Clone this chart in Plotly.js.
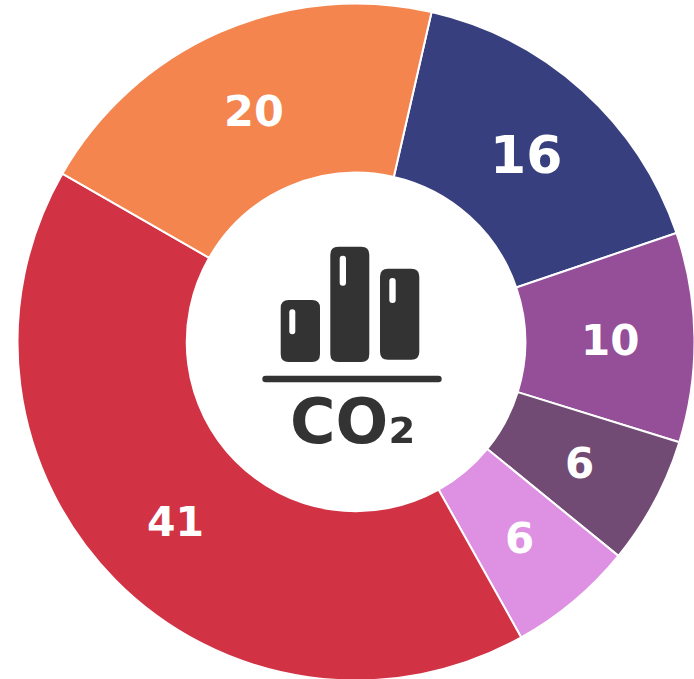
<!DOCTYPE html>
<html><head><meta charset="utf-8">
<script src="https://cdn.plot.ly/plotly-3.0.1.min.js"></script>
<style>html,body{margin:0;padding:0;background:#fff;width:694px;height:679px;overflow:hidden}#c{width:695px;height:682px}svg text{text-rendering:auto !important}</style>
</head><body><div id="c"></div>
<script>
const labels = ["A","B","C","D","E","F"];
const values = [16.2,10,6.1,6,41.4,20.3];
const labelText = ["16","10","6","6","41","20"];
const colors = ["#373F7E","#954F99","#714B73","#DE90E2","#D13345","#F4854F"];
const fontSizes = [52,42,42,42,41,43];
const W=695,H=682;
const px=x=>x/W, py=y=>1-y/H;
function rr(x0,y0,x1,y1,r){
  return `M${px(x0+r)},${py(y0)} L${px(x1-r)},${py(y0)} Q${px(x1)},${py(y0)} ${px(x1)},${py(y0+r)} L${px(x1)},${py(y1-r)} Q${px(x1)},${py(y1)} ${px(x1-r)},${py(y1)} L${px(x0+r)},${py(y1)} Q${px(x0)},${py(y1)} ${px(x0)},${py(y1-r)} L${px(x0)},${py(y0+r)} Q${px(x0)},${py(y0)} ${px(x0+r)},${py(y0)} Z`;
}
const shape=(path,fill)=>({type:'path',xref:'paper',yref:'paper',path,fillcolor:fill,line:{width:0},layer:'above'});
const dark="#333333";
const shapes=[
 shape(rr(280.7,300,320,362,8),dark),
 shape(rr(330.3,246.7,369.3,362,8),dark),
 shape(rr(380,268.7,419.3,359.7,8),dark),
 shape(rr(289.3,309.3,295.3,334.3,3),"#fff"),
 shape(rr(339.7,255.7,346,285.7,3),"#fff"),
 shape(rr(389.3,278,395.7,303,3),"#fff"),
 shape(rr(262.3,375.7,441.7,382.3,3.3),dark)
];
const rotation=12.9, total=values.reduce((a,b)=>a+b,0);
let acc=0;
const sliceLabels=values.map((v,i)=>{
  const a=(rotation+(acc+v/2)/total*360)*Math.PI/180; acc+=v;
  return {xref:'paper',yref:'paper',x:px(356+254*Math.sin(a)),y:py(343.5-254*Math.cos(a)),xanchor:'center',yanchor:'middle',showarrow:false,
    text:labelText[i],font:{family:'DejaVu Sans',size:fontSizes[i],color:'#fff',weight:700}};
});
Plotly.newPlot('c',[{
 type:'pie',labels,values,textinfo:'none',sort:false,direction:'clockwise',rotation,hole:0.5,
 marker:{colors,line:{color:'#fff',width:2}},
 domain:{x:[17.5/W,694.5/W],y:[1.5/H,678.5/H]},hoverinfo:'none',showlegend:false
}],{
 width:W,height:H,margin:{l:0,r:0,t:0,b:0},paper_bgcolor:'#fff',showlegend:false,shapes,
 annotations:sliceLabels.concat([{xref:'paper',yref:'paper',x:px(352.5),y:py(421.5),xanchor:'center',yanchor:'middle',showarrow:false,
  text:'CO₂',font:{family:'DejaVu Sans',size:62,color:dark,weight:700}}])
},{displayModeBar:false,staticPlot:true});
</script></body></html>
